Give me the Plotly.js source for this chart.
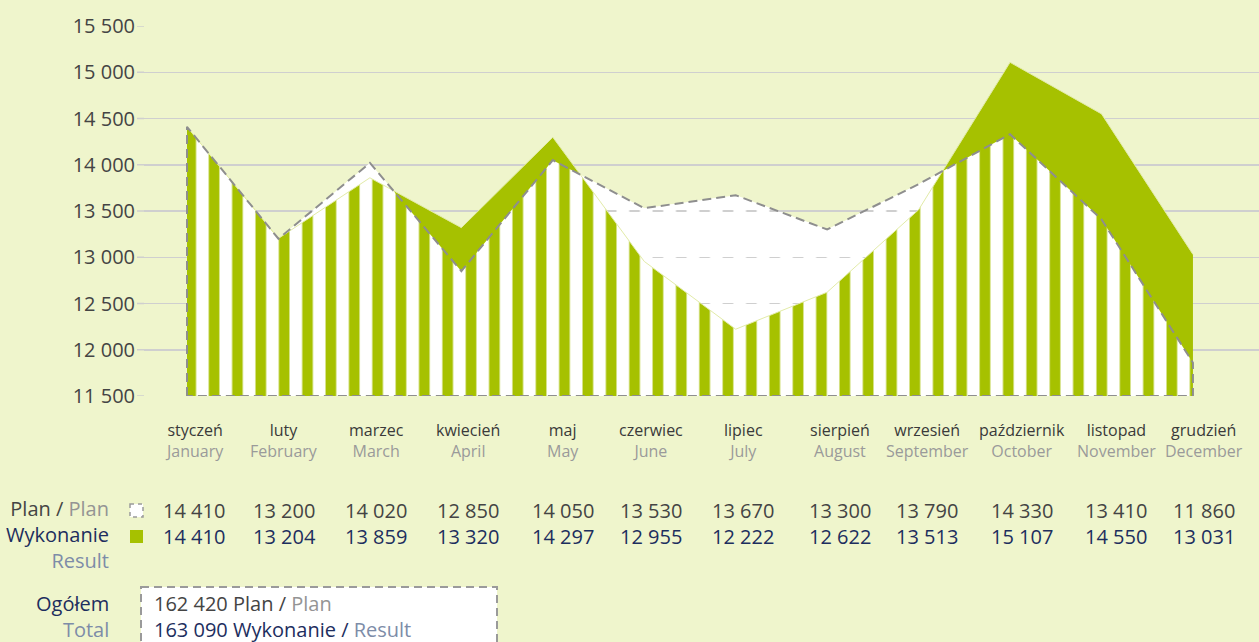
<!DOCTYPE html>
<html>
<head>
<meta charset="utf-8">
<script src="https://cdn.plot.ly/plotly-3.0.1.min.js"></script>
<style>
  html, body { margin: 0; padding: 0; background: #eff5cc; }
  #myGraph { width: 1259px; height: 642px; }
</style>
</head>
<body>
<div id="myGraph"></div>
<script>
// 資料：月份（波蘭文 / 英文）、計畫值、實際值
let monthsPl = ['styczeń', 'luty', 'marzec', 'kwiecień', 'maj', 'czerwiec', 'lipiec', 'sierpień', 'wrzesień', 'październik', 'listopad', 'grudzień'];
let monthsEn = ['January', 'February', 'March', 'April', 'May', 'June', 'July', 'August', 'September', 'October', 'November', 'December'];
let plan = [14410, 13200, 14020, 12850, 14050, 13530, 13670, 13300, 13790, 14330, 13410, 11860];
let result = [14410, 13204, 13859, 13320, 14297, 12955, 12222, 12622, 13513, 15107, 14550, 13031];
let yTicks = [11500, 12000, 12500, 13000, 13500, 14000, 14500, 15000, 15500];

// 版面（像素）
const W = 1259, H = 642;
const L = 144, R = 0, T = 26, B = 246;
const plotW = W - L - R, plotH = H - T - B;
function px(x) { return (x - L) / plotW; }
function py(y) { return 1 - (y - T) / plotH; }

// 表格欄位中心
let colX = [194, 284, 376, 468, 563, 651, 743, 840, 927, 1022, 1116, 1204];

const green = '#a6c100';
const navy = '#1d2e5e';
const dark = '#444444';
const grey = '#949494';
const blueGrey = '#7d8ca8';

function fmt(n) { return String(n).replace(/\B(?=(\d{3})+(?!\d))/g, ' '); }
function sum(a) { return a.reduce((s, v) => s + v, 0); }
function col(c, t) { return '<span style="color:' + c + '">' + t + '</span>'; }

let idx = plan.map((v, i) => i);
let yMin = yTicks[0], yMax = yTicks[yTicks.length - 1];
let last = idx.length - 1;

// 白色底（計畫值下方）
let planPath = 'M ' + idx[0] + ',' + yMin;
for (let i = 0; i < idx.length; i++) planPath += ' L ' + idx[i] + ',' + plan[i];
planPath += ' L ' + idx[last] + ',' + yMin + ' Z';

// 實際值：綠色面積
let trResult = {
    x: idx, y: result, type: 'scatter', mode: 'lines',
    fill: 'tozeroy', fillcolor: green,
    line: {width: 0, color: green}, hoverinfo: 'skip'
};

// 計畫值下方：白色直條紋
let trStripes = {
    x: idx, y: plan, type: 'scatter', mode: 'lines',
    fill: 'tozeroy', fillcolor: 'rgba(0,0,0,0)',
    fillpattern: {shape: '|', fgcolor: '#ffffff', bgcolor: 'rgba(0,0,0,0)', size: 23.36, solidity: 0.545, fillmode: 'replace'},
    line: {width: 0, color: 'rgba(0,0,0,0)'}, hoverinfo: 'skip'
};

// 實際值邊線（淡）
let trResultEdge = {
    x: idx, y: result, type: 'scatter', mode: 'lines',
    line: {width: 1, color: '#e2eba8'}, hoverinfo: 'skip'
};

// 計畫值虛線外框
let trPlan = {
    x: [idx[0]].concat(idx, [idx[last], idx[0]]),
    y: [yMin].concat(plan, [yMin, yMin]),
    type: 'scatter', mode: 'lines',
    line: {width: 2, color: '#8e8e8e', dash: '9px,5px'}, hoverinfo: 'skip'
};

let data = [trResult, trStripes, trResultEdge, trPlan];

let shapes = [];
shapes.push({type: 'path', xref: 'x', yref: 'y', path: planPath, fillcolor: '#ffffff', line: {width: 0}, layer: 'below'});
// 格線延伸到左側
yTicks.forEach(v => {
    shapes.push({type: 'line', xref: 'paper', yref: 'y', x0: px(137), x1: 0, y0: v, y1: v, line: {color: '#cfcfcf', width: 1.5}, layer: 'below'});
});
// 圖例小方塊
shapes.push({type: 'rect', xref: 'paper', yref: 'paper', x0: px(130), x1: px(143), y0: py(504), y1: py(517), fillcolor: '#ffffff', line: {color: '#9a9a9a', width: 1.5, dash: '4px,4px'}});
shapes.push({type: 'rect', xref: 'paper', yref: 'paper', x0: px(130), x1: px(143), y0: py(530), y1: py(543), fillcolor: green, line: {width: 0}});
// 合計框
shapes.push({type: 'rect', xref: 'paper', yref: 'paper', x0: px(141), x1: px(497), y0: py(587), y1: py(700), fillcolor: '#ffffff', line: {color: '#9a9a9a', width: 2, dash: '8px,5px'}});

let annotations = [];
function addText(x, y, text, size, color, anchor, align) {
    annotations.push({
        xref: 'paper', yref: 'paper', x: px(x), y: py(y), text: text,
        showarrow: false, xanchor: anchor || 'center', yanchor: 'middle',
        align: align || 'center',
        font: {family: 'Open Sans, sans-serif', size: size, color: color}
    });
}
// 月份與數值（每欄一個多行文字）
for (let i = 0; i < monthsPl.length; i++) {
    addText(colX[i], 440.5, monthsPl[i] + '<br>' + col('#9a9a9a', monthsEn[i]), 16, '#3a3a3a');
    addText(colX[i], 523, fmt(plan[i]) + '<br>' + col(navy, fmt(result[i])), 20, dark);
}
// 列標題
addText(111, 534, 'Plan / ' + col(grey, 'Plan') + '<br>' + col(navy, 'Wykonanie') + '<br>' + col(blueGrey, 'Result'), 20, dark, 'right', 'right');
addText(111, 616.5, 'Ogółem<br>' + col(blueGrey, 'Total'), 20, navy, 'right', 'right');
// 合計
addText(152, 616.5, fmt(sum(plan)) + ' Plan / ' + col(grey, 'Plan') + '<br>' +
    col(navy, fmt(sum(result)) + ' Wykonanie / ') + col(blueGrey, 'Result'), 20, dark, 'left', 'left');

let layout = {
    width: W, height: H,
    margin: {l: L, r: R, t: T, b: B, pad: 0},
    paper_bgcolor: '#eff5cc',
    plot_bgcolor: 'rgba(0,0,0,0)',
    showlegend: false,
    separators: ', ',
    font: {family: 'Open Sans, sans-serif', size: 20, color: dark},
    xaxis: {
        range: [-(187 - L) / 91.45, (W - R - 187) / 91.45],
        showgrid: false, zeroline: false, showticklabels: false, showline: false, fixedrange: true
    },
    yaxis: {
        range: [yMin, yMax], tickvals: yTicks, tickformat: ',d',
        showgrid: true, gridcolor: '#cfcfcf', gridwidth: 1.5,
        zeroline: false, showline: false, ticks: '',
        ticklabelstandoff: 8,
        tickfont: {family: 'Open Sans, sans-serif', size: 20, color: dark},
        fixedrange: true
    },
    shapes: shapes,
    annotations: annotations
};

Plotly.newPlot('myGraph', data, layout, {displayModeBar: false, staticPlot: true});
</script>
</body>
</html>
